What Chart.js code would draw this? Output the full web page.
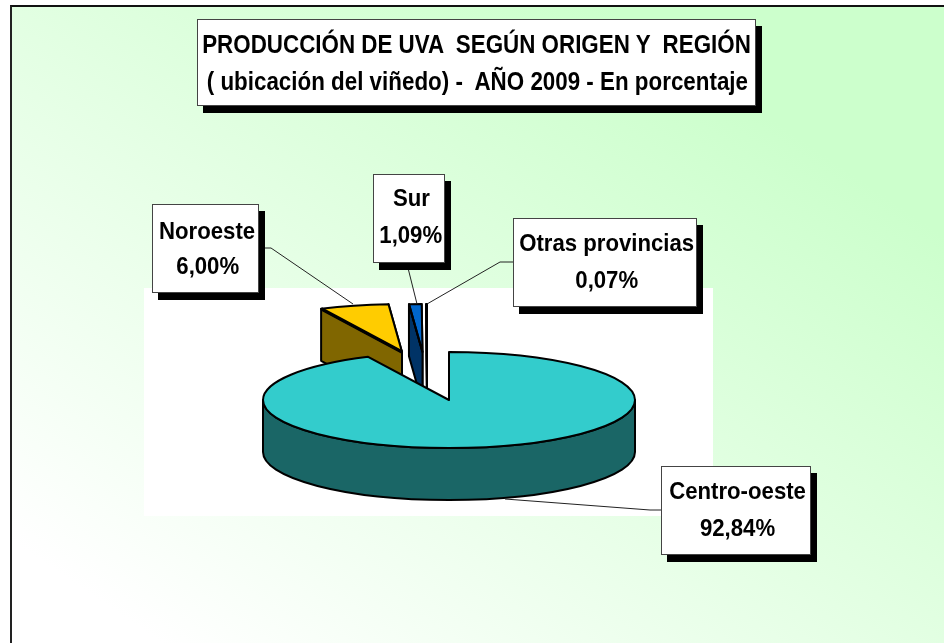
<!DOCTYPE html>
<html lang="es">
<head>
<meta charset="utf-8">
<title>Producción de uva</title>
<script src="https://cdn.jsdelivr.net/npm/chart.js@4"></script>
<style>
html,body{margin:0;padding:0;width:944px;height:643px;overflow:hidden;background:#fff;font-family:"Liberation Sans",Arial,sans-serif;}
#panel{position:absolute;left:10px;top:5px;width:934px;height:638px;box-sizing:border-box;border-left:2px solid #222;border-top:2px solid #111;
background:linear-gradient(to top right,#ffffff 8%,#ccffcc 82%);}
#wrap{position:absolute;left:0;top:0;width:944px;height:643px;}
.box{position:absolute;box-sizing:border-box;background:#fff;border:1px solid #444;box-shadow:6px 7px 0 #000;
display:flex;flex-direction:column;justify-content:center;align-items:center;font-weight:bold;color:#000;font-size:24.5px;line-height:37px;white-space:pre;}
.box span{display:block;transform:scaleX(.905);transform-origin:center;}
#title{left:197px;top:19px;width:559px;height:87px;font-size:25px;line-height:37px;padding-left:1px;}
#title span{transform:scaleX(.895);}
</style>
</head>
<body>
<div id="panel"></div>
<div id="wrap"><canvas id="c" width="944" height="643"></canvas></div>
<div class="box" id="title"><span>PRODUCCIÓN DE UVA  SEGÚN ORIGEN Y  REGIÓN</span><span>( ubicación del viñedo) -  AÑO 2009 - En porcentaje</span></div>
<div class="box" style="left:152px;top:204px;width:107px;height:89px;line-height:35px;padding:0 0 2px 4px"><span id="l1a"></span><span id="l1b"></span></div>
<div class="box" style="left:373px;top:174px;width:72px;height:89px;padding:0 0 6px 4px"><span id="l2a"></span><span id="l2b"></span></div>
<div class="box" style="left:513px;top:218px;width:184px;height:89px;padding:0 0 3px 3px"><span id="l3a"></span><span id="l3b"></span></div>
<div class="box" style="left:661px;top:466px;width:150px;height:89px;padding:0 0 3px 3px"><span id="l0a"></span><span id="l0b"></span></div>
<script>
const categories = ["Centro-oeste", "Noroeste", "Sur", "Otras provincias"];
const shares = [92.84, 6.00, 1.09, 0.07];
const topColors = ["#33CCCC", "#FFCC00", "#0066CC", "#FFFFFF"];
const wallColors = ["#1A6666", "#806600", "#003366", "#FFFFFF"];
const explodeX = [0, -47, -26.5, -22];
const explodeY = [0, -48, -48, -48];
const startEdgeWidths = [2, 3.5, 2, 2];
const drawOrder = [1, 2, 3, 0];
const leaders = [
  [[505,499],[650,510],[661,510]],
  [[265,248],[271,248],[353,304]],
  [[408,268],[417,304]],
  [[427,304],[500,262],[513,262]]
];
const squash = 48 / 186;
const depth = 52;

categories.forEach((c, i) => {
  document.getElementById("l" + i + "a").textContent = c;
  document.getElementById("l" + i + "b").textContent = shares[i].toFixed(2).replace(".", ",") + "%";
});

const pie3d = {
  id: "pie3d",
  beforeDraw(chart) {
    const ctx = chart.ctx;
    ctx.save();
    ctx.fillStyle = "#fff";
    ctx.fillRect(144, 288, 569, 228);
    ctx.restore();
  },
  beforeDatasetDraw(chart, args) {
    const ctx = chart.ctx;
    const arcs = args.meta.data;
    ctx.save();
    ctx.lineJoin = "round";
    ctx.lineWidth = 2;
    ctx.strokeStyle = "#000";
    drawOrder.forEach(i => {
      const a = arcs[i];
      const cx = a.x + explodeX[i], cy = a.y + explodeY[i], r = a.outerRadius;
      const px = t => cx + Math.cos(t) * r, py = t => cy + Math.sin(t) * r * squash;
      const wall = pts => {
        ctx.beginPath();
        pts.forEach((p, n) => n ? ctx.lineTo(p[0], p[1]) : ctx.moveTo(p[0], p[1]));
        ctx.closePath();
        ctx.fillStyle = wallColors[i];
        ctx.fill();
        ctx.stroke();
      };
      if (i !== 0) {
        [a.endAngle, a.startAngle].forEach(t => {
          wall([[cx, cy], [px(t), py(t)], [px(t), py(t) + depth], [cx, cy + depth]]);
        });
      }
      const s = Math.max(a.startAngle, 0), e = Math.min(a.endAngle, Math.PI);
      if (e > s) {
        ctx.beginPath();
        ctx.ellipse(cx, cy, r, r * squash, 0, s, e);
        ctx.ellipse(cx, cy + depth, r, r * squash, 0, e, s, true);
        ctx.closePath();
        ctx.fillStyle = wallColors[i];
        ctx.fill();
        ctx.stroke();
      }
      ctx.save();
      ctx.translate(cx, cy);
      ctx.scale(1, squash);
      ctx.translate(-a.x, -a.y);
      a.draw(ctx);
      ctx.restore();
      ctx.beginPath();
      ctx.moveTo(cx, cy);
      ctx.ellipse(cx, cy, r, r * squash, 0, a.startAngle, a.endAngle);
      ctx.closePath();
      ctx.stroke();
      ctx.lineWidth = startEdgeWidths[i];
      ctx.beginPath();
      ctx.moveTo(cx, cy);
      ctx.lineTo(px(a.startAngle), py(a.startAngle));
      ctx.stroke();
      ctx.lineWidth = 2;
    });
    ctx.restore();
    return false;
  },
  afterDatasetsDraw(chart) {
    const ctx = chart.ctx;
    ctx.save();
    ctx.strokeStyle = "#222";
    ctx.lineWidth = 1;
    leaders.forEach(l => {
      ctx.beginPath();
      l.forEach((p, n) => n ? ctx.lineTo(p[0], p[1]) : ctx.moveTo(p[0], p[1]));
      ctx.stroke();
    });
    ctx.restore();
  }
};

new Chart(document.getElementById("c"), {
  type: "pie",
  data: {
    labels: categories,
    datasets: [{ data: shares, backgroundColor: topColors, borderWidth: 0 }]
  },
  options: {
    responsive: false,
    animation: false,
    events: [],
    rotation: 0,
    layout: { padding: { left: 263, right: 309, top: 214, bottom: 57 } },
    plugins: { legend: { display: false }, title: { display: false }, tooltip: { enabled: false } }
  },
  plugins: [pie3d]
});
</script>
</body>
</html>
